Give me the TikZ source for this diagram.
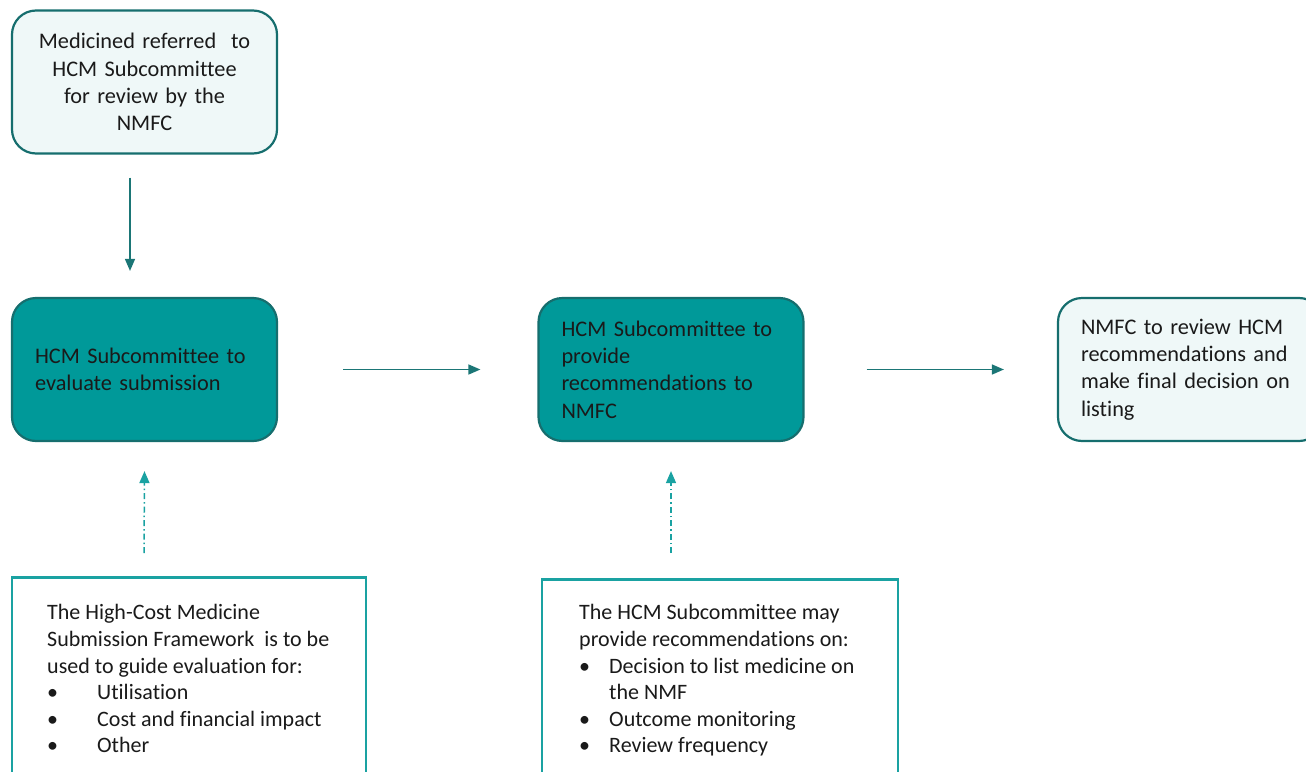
\documentclass[tikz,border=0pt]{standalone}
\usepackage{fontspec}
\setmainfont{Carlito}[Ligatures=NoCommon]
\usetikzlibrary{arrows.meta}
\definecolor{tealfill}{HTML}{009999}
\definecolor{tealdark}{HTML}{166E6E}
\definecolor{lightfill}{HTML}{EFF8F8}
\definecolor{arrowcol}{HTML}{1B7676}
\definecolor{tealmid}{HTML}{1AA2A2}
\definecolor{txt}{HTML}{1A1A1A}
\tikzset{
  rbox/.style={draw=tealdark, line width=2.2pt, rounded corners=24pt, minimum width=265pt, minimum height=143pt, inner xsep=23pt, text=txt, font=\fontsize{22.3}{27.3}\selectfont},
  darkbox/.style={rbox, fill=tealfill, align=left, text width=219pt},
  lightbox/.style={rbox, fill=lightfill},
  framebox/.style={draw=tealmid, line width=2.5pt, fill=white, minimum height=230pt, anchor=north},
  btext/.style={anchor=north west, inner sep=0pt, align=left, text=txt, font=\fontsize{22}{26.6}\selectfont},
  solidarrow/.style={draw=arrowcol, line width=1.5pt, -{Triangle[length=12pt,width=10pt]}},
  dasharrow/.style={draw=tealmid, line width=1.5pt, dash pattern=on 6pt off 3pt on 1.5pt off 3pt, -{Triangle[length=12pt,width=10pt]}}
}
\begin{document}
\begin{tikzpicture}[x=1pt,y=-1pt]
\useasboundingbox (0,0) rectangle (1306,771);
\begin{scope}
\clip (0,0) rectangle (1306,771);
\node[lightbox, align=center, text width=219pt] (A) at (144.5,82) {Medicined referred\ \ to\\HCM Subcommittee\\for review by the\\NMFC};
\node[darkbox] (B) at (144.5,369.5) {HCM Subcommittee to\\evaluate submission};
\node[darkbox] (C) at (671,369.5) {HCM Subcommittee to\\provide\\recommendations to\\NMFC};
\node[lightbox, align=left, text width=219pt] (D) at (1190.5,369.5) {NMFC to review HCM\\recommendations and\\make final decision on\\listing};
\node[framebox, minimum width=354pt] (E) at (189,576) {};
\node[framebox, minimum width=356pt] (F) at (720,578) {};
\node[btext] (Et) at (47,604.5) {The High-Cost Medicine\\Submission Framework\ \ is to be\\used to guide evaluation for:\\\makebox[50pt][l]{\textbullet}Utilisation\\\makebox[50pt][l]{\textbullet}Cost and financial impact\\\makebox[50pt][l]{\textbullet}Other};
\node[btext] (Ft) at (579,604.5) {The HCM Subcommittee may\\provide recommendations on:\\\makebox[30pt][l]{\textbullet}Decision to list medicine on\\\hspace*{30pt}the NMF\\\makebox[30pt][l]{\textbullet}Outcome monitoring\\\makebox[30pt][l]{\textbullet}Review frequency};
\end{scope}
\draw[solidarrow] ([shift={(-14.5,23)}]A.south) -- ([shift={(-14.5,-26)}]B.north);
\draw[solidarrow] ([xshift=65pt]B.east) -- ([xshift=-57pt]C.west);
\draw[solidarrow] ([xshift=62pt]C.east) -- ([xshift=-53pt]D.west);
\draw[dasharrow] ([shift={(-45,-23)}]E.north) -- ([shift={(0,29)}]B.south);
\draw[dasharrow] ([shift={(-49,-25)}]F.north) -- ([shift={(0,29)}]C.south);
\end{tikzpicture}
\end{document}
